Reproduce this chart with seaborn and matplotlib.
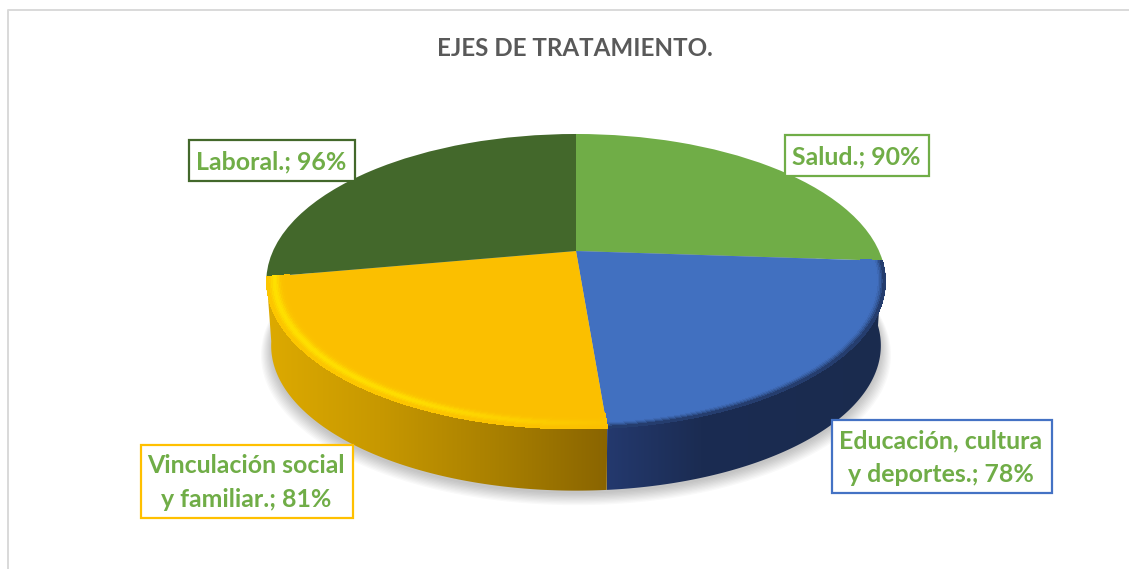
# plot.py
"""
EJES DE TRATAMIENTO. - pie with a perspective tilt and a side wall.
"""

import numpy as np
import matplotlib
matplotlib.use("Agg")
import matplotlib.pyplot as plt
import seaborn as sns
from matplotlib.collections import PolyCollection
from matplotlib.colors import to_rgb
from matplotlib.patches import Polygon, Rectangle
from matplotlib.transforms import Transform

TITLE = "EJES DE TRATAMIENTO."
CATEGORIES = ["Salud.", "Educación, cultura\ny deportes.", "Vinculación social\ny familiar.", "Laboral."]
VALUES = [90, 78, 81, 96]
COLORS = ["#70AD47", "#4170C0", "#FBBF00", "#43682B"]
BOX_COLORS = ["#70AD47", "#4472C4", "#FFC000", "#43682B"]

# label boxes in pixels: left, top, right, bottom
BOXES = [(785, 135, 929, 176), (832, 420, 1052, 493), (141, 445, 353, 518), (189, 140, 355, 181)]

# projection of the unit disc onto the picture
CX, CY = 576, 251
AX, BX, KP = 303, 141.2, 0.2067
DEPTH, BOTTOM_SCALE = 65, 0.985

# side wall colours along x
WALL_STOPS = {
    1: ([607, 700, 890], ["#24396E", "#1B2C52", "#1A2B4E"]),
    2: ([266, 380, 500, 607], ["#DDAA00", "#C79800", "#A87F00", "#8A6500"]),
}


def project(x, y, scale=1.0, drop=0.0):
    x, y = np.asarray(x) * scale, np.asarray(y) * scale
    w = 1 + KP * y
    return CX + AX * x / w, CY - BX * y / w + drop


class DiscProjection(Transform):
    input_dims = output_dims = 2
    is_separable = False
    has_inverse = False

    def transform_non_affine(self, values):
        values = np.asarray(values, dtype=float)
        return np.column_stack(project(values[:, 0], values[:, 1]))


def ramp(x, stops):
    xs, cols = stops
    rgb = np.array([to_rgb(c) for c in cols])
    return np.column_stack([np.interp(x, xs, rgb[:, i]) for i in range(3)])


def add_wall(ax, theta1, theta2, stops):
    # horizontal gradient clipped to the outline of the wall
    th = np.radians(np.linspace(theta1, theta2, 160))
    xt, yt = project(np.cos(th), np.sin(th))
    xb, yb = project(np.cos(th), np.sin(th), BOTTOM_SCALE, DEPTH)
    outline = np.column_stack([np.r_[xt, xb[::-1]], np.r_[yt, yb[::-1]]])
    left, right = outline[:, 0].min(), outline[:, 0].max()
    top, bottom = outline[:, 1].min(), outline[:, 1].max()
    grad = ramp(np.linspace(left, right, 300), stops)[None, :, :]
    img = ax.imshow(grad, extent=[left, right, bottom, top], aspect="auto", zorder=2)
    img.set_clip_path(Polygon(outline, closed=True, transform=ax.transData))


def add_rim(ax, theta1, theta2, idx):
    """Bevel along the outer edge of the two front slices."""
    base = np.array(to_rgb(COLORS[idx]))
    th = np.radians(np.linspace(theta1, theta2, 120))
    radii = np.linspace(0.93, 0.998, 15)
    quads, cols = [], []
    for j in range(len(radii) - 1):
        rm = (radii[j] + radii[j + 1]) / 2
        for i in range(len(th) - 1):
            x0, y0 = project(np.cos(th[i]) * radii[j], np.sin(th[i]) * radii[j])
            x1, y1 = project(np.cos(th[i + 1]) * radii[j], np.sin(th[i + 1]) * radii[j])
            x2, y2 = project(np.cos(th[i + 1]) * radii[j + 1], np.sin(th[i + 1]) * radii[j + 1])
            x3, y3 = project(np.cos(th[i]) * radii[j + 1], np.sin(th[i]) * radii[j + 1])
            if idx == 2:
                strength = np.interp(x0, [266, 420, 607], [0.85, 0.75, 0.1])
                mix = strength * np.exp(-((rm - 0.977) / 0.015) ** 2)
                col = base * (1 - mix) + np.array(to_rgb("#FFE600")) * mix
            else:
                mix = np.clip((rm - 0.975) / 0.025, 0, 1) ** 1.5
                col = base * (1 - mix) + np.array(to_rgb("#1B2C52")) * mix
            quads.append([(x0, y0), (x1, y1), (x2, y2), (x3, y3)])
            cols.append(col)
    ax.add_collection(PolyCollection(quads, facecolors=cols, edgecolors=cols, linewidths=0.6,
                                     antialiaseds=False, zorder=4))


def main():
    sns.set_theme(style="white")
    plt.rcParams["font.family"] = ["Lato", "DejaVu Sans"]

    fig = plt.figure(figsize=(11.29, 5.69), dpi=100, facecolor="white")
    ax = fig.add_axes([0, 0, 1, 1])

    # ---- Top face --------------------------------------------------------
    wedges, _ = ax.pie(VALUES, colors=COLORS, startangle=90, counterclock=False,
                       wedgeprops=dict(linewidth=0))
    ax.set_aspect("auto")
    ax.axis("off")

    disc = DiscProjection() + ax.transData
    for w in wedges:
        w.set_transform(disc)
        w.set_zorder(3)

    # ---- Soft shadow below the disc --------------------------------------
    th = np.linspace(0, 2 * np.pi, 240)
    for k in range(10):
        xs, ys = project(np.cos(th), np.sin(th), BOTTOM_SCALE + 0.0035 * k, DEPTH + 3 + 0.5 * k)
        ax.fill(xs, ys, color="black", alpha=0.022, lw=0, zorder=1)

    # ---- Side wall and bevel ---------------------------------------------
    for i, w in enumerate(wedges):
        if i in WALL_STOPS:
            add_wall(ax, w.theta1, w.theta2, WALL_STOPS[i])
            add_rim(ax, w.theta1, w.theta2, i)

    # ---- Chart frame -----------------------------------------------------
    ax.plot([8, 8, 1129], [569, 10, 10], color="#D9D9D9", lw=1.4, zorder=1)

    # ---- Text ------------------------------------------------------------
    ax.text(575, 48, TITLE, ha="center", va="center", fontsize=17.4,
            fontweight="bold", color="#595959", zorder=6)

    for name, val, box, edge in zip(CATEGORIES, VALUES, BOXES, BOX_COLORS):
        x0, y0, x1, y1 = box
        ax.add_patch(Rectangle((x0, y0), x1 - x0, y1 - y0, facecolor="white",
                               edgecolor=edge, lw=1.6, zorder=5))
        ax.text((x0 + x1) / 2 - 1, (y0 + y1) / 2 + 1, f"{name}; {val}%", ha="center", va="center",
                fontsize=17.9, fontweight="bold", color="#70AD47", linespacing=1.55, zorder=6)

    ax.set_xlim(0, 1129)
    ax.set_ylim(569, 0)
    fig.savefig("out.png", dpi=100)


if __name__ == "__main__":
    main()
